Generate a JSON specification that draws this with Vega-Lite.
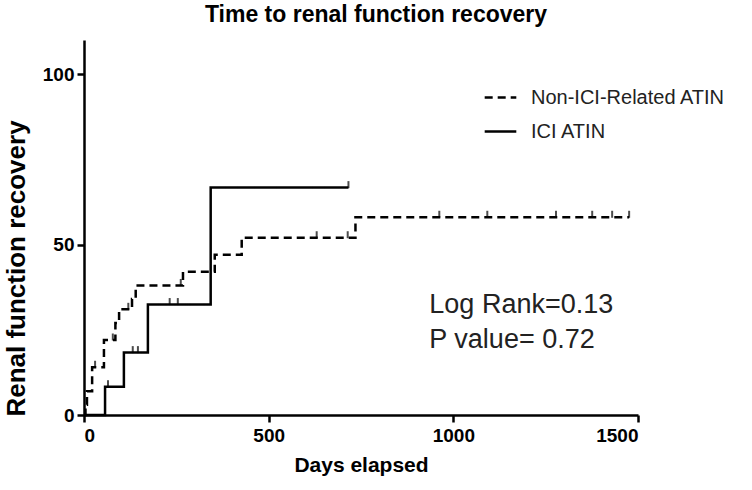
{
  "$schema": "https://vega.github.io/schema/vega-lite/v6.json",
  "width": 554,
  "height": 375,
  "autosize": "none",
  "padding": {"left": 84, "top": 40, "right": 114, "bottom": 75},
  "background": "white",
  "title": {
    "text": "Time to renal function recovery",
    "font": "Liberation Sans",
    "fontSize": 23,
    "fontWeight": "bold",
    "color": "black",
    "anchor": "middle",
    "offset": 13,
    "dx": 15
  },
  "config": {
    "view": {"stroke": null},
    "axis": {
      "grid": false,
      "domainColor": "black",
      "domainWidth": 2.5,
      "tickColor": "black",
      "tickWidth": 2.5,
      "tickSize": 7,
      "labelFont": "Liberation Sans",
      "labelFontWeight": "bold",
      "labelFontSize": 19,
      "labelColor": "black",
      "titleFont": "Liberation Sans",
      "titleFontWeight": "bold",
      "titleFontSize": 21,
      "titleColor": "black"
    },
    "legend": {
      "labelFont": "Liberation Sans",
      "labelFontSize": 20,
      "labelColor": "#222222",
      "labelLimit": 400
    }
  },
  "datasets": {
    "curves": [
      {"group": "Non-ICI-Related ATIN", "days": 0, "recovery": 0},
      {"group": "Non-ICI-Related ATIN", "days": 4, "recovery": 3},
      {"group": "Non-ICI-Related ATIN", "days": 8, "recovery": 7},
      {"group": "Non-ICI-Related ATIN", "days": 22, "recovery": 14},
      {"group": "Non-ICI-Related ATIN", "days": 54, "recovery": 22},
      {"group": "Non-ICI-Related ATIN", "days": 85, "recovery": 27},
      {"group": "Non-ICI-Related ATIN", "days": 95, "recovery": 31},
      {"group": "Non-ICI-Related ATIN", "days": 130, "recovery": 34},
      {"group": "Non-ICI-Related ATIN", "days": 140, "recovery": 38},
      {"group": "Non-ICI-Related ATIN", "days": 268, "recovery": 42},
      {"group": "Non-ICI-Related ATIN", "days": 354, "recovery": 47},
      {"group": "Non-ICI-Related ATIN", "days": 427, "recovery": 52},
      {"group": "Non-ICI-Related ATIN", "days": 735, "recovery": 58},
      {"group": "Non-ICI-Related ATIN", "days": 1476, "recovery": 58},
      {"group": "ICI ATIN", "days": 0, "recovery": 0},
      {"group": "ICI ATIN", "days": 57, "recovery": 8.3},
      {"group": "ICI ATIN", "days": 108, "recovery": 18.3},
      {"group": "ICI ATIN", "days": 173, "recovery": 32.4},
      {"group": "ICI ATIN", "days": 343, "recovery": 66.7},
      {"group": "ICI ATIN", "days": 716, "recovery": 66.7}
    ],
    "censored": [
      {"group": "Non-ICI-Related ATIN", "days": 30, "recovery": 14},
      {"group": "Non-ICI-Related ATIN", "days": 78, "recovery": 22},
      {"group": "Non-ICI-Related ATIN", "days": 120, "recovery": 31},
      {"group": "Non-ICI-Related ATIN", "days": 262, "recovery": 38},
      {"group": "Non-ICI-Related ATIN", "days": 630, "recovery": 52},
      {"group": "Non-ICI-Related ATIN", "days": 714, "recovery": 52},
      {"group": "Non-ICI-Related ATIN", "days": 962, "recovery": 58},
      {"group": "Non-ICI-Related ATIN", "days": 1092, "recovery": 58},
      {"group": "Non-ICI-Related ATIN", "days": 1278, "recovery": 58},
      {"group": "Non-ICI-Related ATIN", "days": 1376, "recovery": 58},
      {"group": "Non-ICI-Related ATIN", "days": 1430, "recovery": 58},
      {"group": "Non-ICI-Related ATIN", "days": 1476, "recovery": 58},
      {"group": "ICI ATIN", "days": 65, "recovery": 8.3},
      {"group": "ICI ATIN", "days": 132, "recovery": 18.3},
      {"group": "ICI ATIN", "days": 146, "recovery": 18.3},
      {"group": "ICI ATIN", "days": 232, "recovery": 32.4},
      {"group": "ICI ATIN", "days": 254, "recovery": 32.4},
      {"group": "ICI ATIN", "days": 716, "recovery": 66.7}
    ],
    "notes": [
      {"label": "Log Rank=0.13", "days": 935, "recovery": 32.4},
      {"label": "P value= 0.72", "days": 935, "recovery": 22.0}
    ]
  },
  "layer": [
    {
      "data": {"name": "curves"},
      "mark": {"type": "line", "interpolate": "step-after", "strokeWidth": 2.5, "color": "black", "strokeCap": "butt"},
      "encoding": {
        "x": {
          "field": "days", "type": "quantitative",
          "scale": {"domain": [0, 1500], "nice": false},
          "axis": {"values": [0, 500, 1000, 1500], "format": "d", "title": "Days elapsed", "labelPadding": 4, "titlePadding": 9}
        },
        "y": {
          "field": "recovery", "type": "quantitative",
          "scale": {"domain": [0, 110], "nice": false},
          "axis": {"values": [0, 50, 100], "title": "Renal function recovery", "labelPadding": 3, "titleFontSize": 26, "titleX": -55, "titleY": 228}
        },
        "strokeDash": {
          "field": "group", "type": "nominal",
          "scale": {"domain": ["Non-ICI-Related ATIN", "ICI ATIN"], "range": [[8, 5], [1, 0]]},
          "legend": {
            "title": null,
            "orient": "none",
            "legendX": 399,
            "legendY": 40,
            "symbolType": "stroke",
            "symbolSize": 1000,
            "symbolStrokeWidth": 2.5,
            "symbolStrokeColor": "black",
            "labelOffset": 13,
            "rowPadding": 6
          }
        }
      }
    },
    {
      "data": {"name": "censored"},
      "mark": {"type": "tick", "orient": "vertical", "size": 7, "thickness": 2, "color": "black", "yOffset": -3},
      "encoding": {
        "x": {"field": "days", "type": "quantitative"},
        "y": {"field": "recovery", "type": "quantitative"}
      }
    },
    {
      "data": {"name": "notes"},
      "mark": {"type": "text", "align": "left", "baseline": "middle", "font": "Liberation Sans", "fontSize": 27, "color": "#222222"},
      "encoding": {
        "x": {"field": "days", "type": "quantitative"},
        "y": {"field": "recovery", "type": "quantitative"},
        "text": {"field": "label"}
      }
    }
  ]
}
